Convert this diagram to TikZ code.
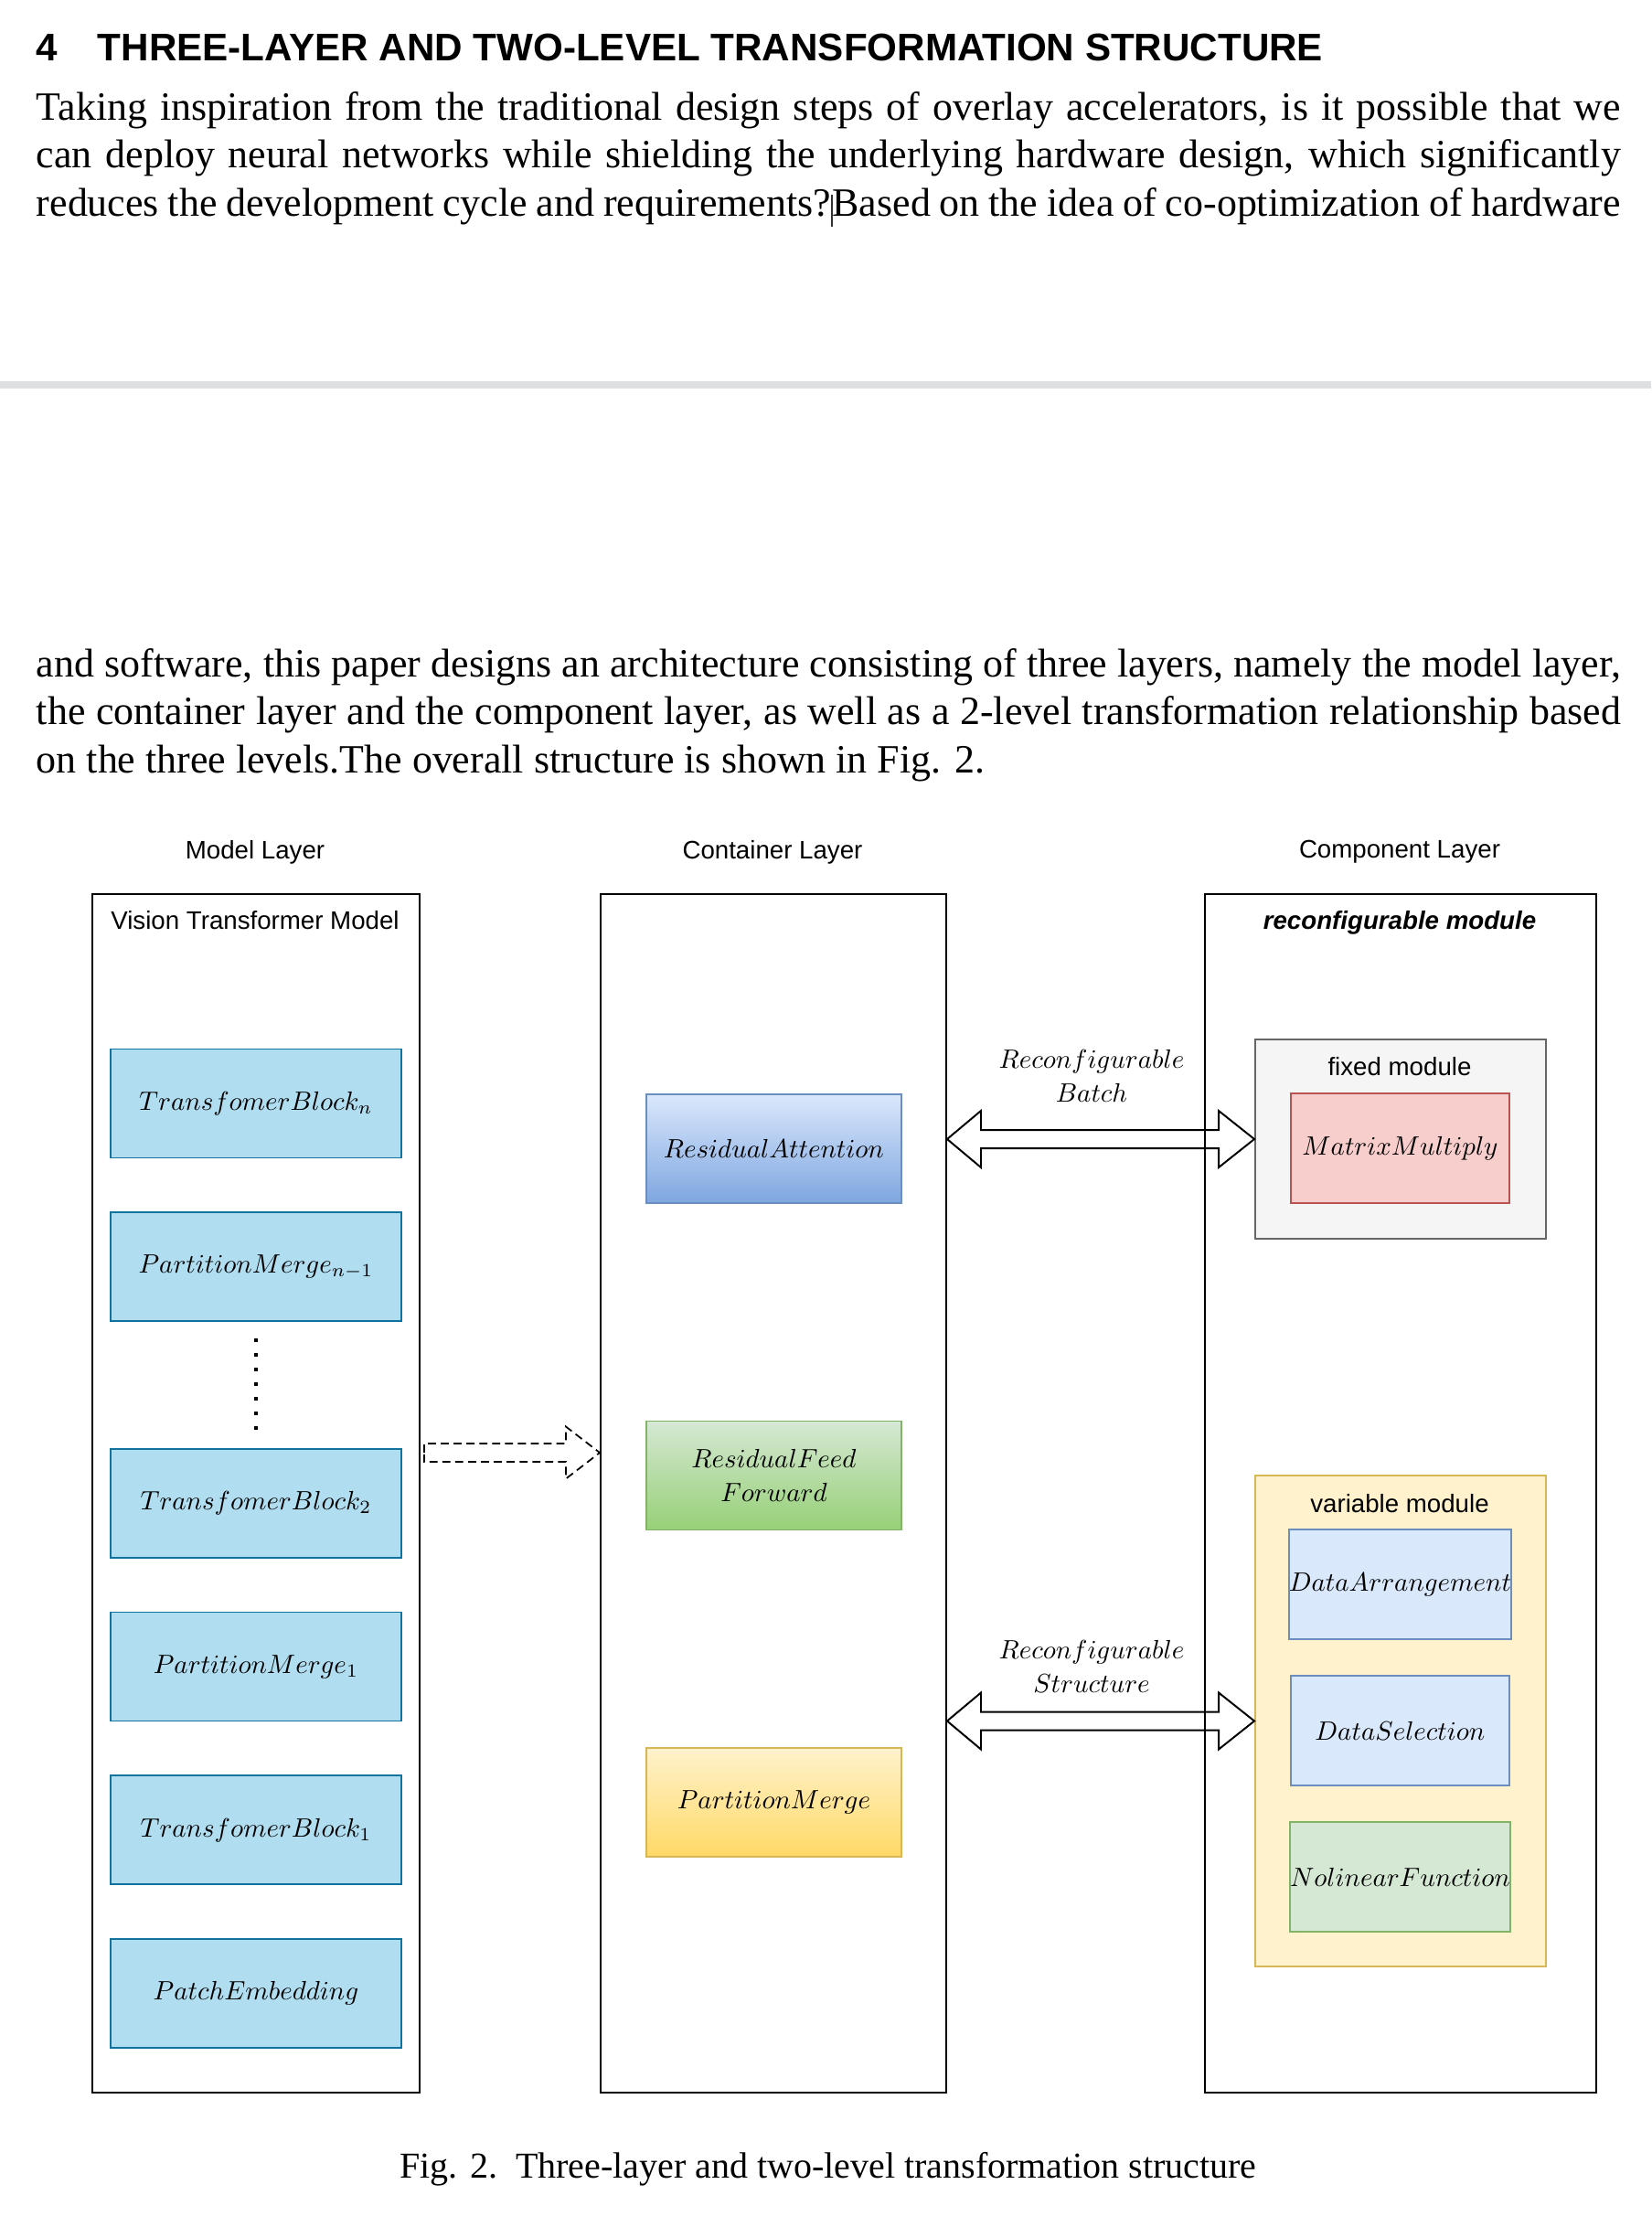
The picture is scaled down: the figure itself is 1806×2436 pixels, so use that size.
\documentclass[tikz,border=0pt]{standalone}
\usepackage{fontspec}
\setmainfont{Liberation Serif}
\setsansfont{Liberation Sans}
\usepackage{xcolor}
\usepackage{graphicx}
\usetikzlibrary{positioning,calc,fit,arrows.meta}

\definecolor{sepGray}{HTML}{DEDFE1}
\definecolor{vitFill}{HTML}{B1DDF0}
\definecolor{vitDraw}{HTML}{10739E}
\definecolor{blueTop}{HTML}{DAE8FC}
\definecolor{blueBottom}{HTML}{7EA6E0}
\definecolor{blueDraw}{HTML}{6C8EBF}
\definecolor{greenTop}{HTML}{D5E8D4}
\definecolor{greenBottom}{HTML}{97D077}
\definecolor{greenDraw}{HTML}{82B366}
\definecolor{yellowTop}{HTML}{FFF2CC}
\definecolor{yellowBottom}{HTML}{FFD966}
\definecolor{yellowDraw}{HTML}{D6B656}
\definecolor{fixedFill}{HTML}{F5F5F5}
\definecolor{fixedDraw}{HTML}{666666}
\definecolor{redFill}{HTML}{F8CECC}
\definecolor{redDraw}{HTML}{B85450}

\newcommand{\mathLabel}{\fontsize{6.6}{8.4}\selectfont}
\newcommand{\mathText}[1]{\scalebox{0.66}{\fontsize{10}{12}\selectfont$#1$}}
\newlength{\bodyWidth}
\setlength{\bodyWidth}{138.64mm}

\begin{document}
\begin{tikzpicture}[
  x=0.08mm, y=-0.08mm,
  bodyLine/.style={anchor=base west, inner sep=0pt,
                   font=\fontsize{10}{12}\selectfont},
  layerLabel/.style={inner sep=0pt, font=\sffamily\fontsize{6.3}{7.6}\selectfont},
  layerBox/.style={draw, line width=0.45pt, inner sep=0pt},
  mathBlock/.style={inner sep=0pt, outer sep=0pt, line width=0.4pt,
                    font=\mathLabel, align=center},
  vitBlock/.style={mathBlock, draw=vitDraw, fill=vitFill,
                   minimum width=25.44mm, minimum height=9.52mm},
  attnBlock/.style={mathBlock, draw=blueDraw, top color=blueTop,
                    bottom color=blueBottom, minimum width=22.32mm,
                    minimum height=9.52mm},
  ffnBlock/.style={mathBlock, draw=greenDraw, top color=greenTop,
                   bottom color=greenBottom, minimum width=22.32mm,
                   minimum height=9.52mm},
  mergeBlock/.style={mathBlock, draw=yellowDraw, top color=yellowTop,
                     bottom color=yellowBottom, minimum width=22.32mm,
                     minimum height=9.52mm},
  unitBlock/.style={mathBlock, minimum width=19.12mm, minimum height=9.6mm},
  blockArrow/.style={draw, line width=0.45pt, line join=miter},
  dashedArrow/.style={draw, line width=0.4pt, dash pattern=on 2pt off 1.2pt},
  dotLine/.style={line width=0.8pt, dash pattern=on 0.8pt off 2.84pt}
]
  \useasboundingbox (0,0) rectangle (1806,2436);
  \fill[white] (0,0) rectangle (1806,2436);

  % === Section text ===
  \node[anchor=base west, inner sep=0pt,
        font=\sffamily\bfseries\fontsize{9.6}{12}\selectfont]
    (secNum) at (39,67) {4};
  \node[anchor=base west, inner sep=0pt,
        font=\sffamily\bfseries\fontsize{9.6}{12}\selectfont]
    (secTitle) at (106,67) {THREE-LAYER AND TWO-LEVEL TRANSFORMATION STRUCTURE};

  \node[bodyLine] (lineOne) at (39,131) {\makebox[\bodyWidth][s]{Taking
    inspiration from the traditional design steps of overlay accelerators,
    is it possible that we}};
  \node[bodyLine] (lineTwo) at (39,183.5) {\makebox[\bodyWidth][s]{can
    deploy neural networks while shielding the underlying hardware design,
    which significantly}};
  \node[bodyLine] (lineThree) at (39,236) {\makebox[\bodyWidth][s]{reduces
    the development cycle and
    requirements?{\color{black!80}\rule[-2.7pt]{0.35pt}{7.9pt}}Based on the
    idea of co-optimization of hardware}};

  \fill[sepGray] (0,417) rectangle (1806,425);

  \node[bodyLine] (lineFour) at (39,740) {\makebox[\bodyWidth][s]{and
    software, this paper designs an architecture consisting of three layers,
    namely the model layer,}};
  \node[bodyLine] (lineFive) at (39,792.5) {\makebox[\bodyWidth][s]{the
    container layer and the component layer, as well as a 2-level
    transformation relationship based}};
  \node[bodyLine] (lineSix) at (39,845) {on the three levels.The overall
    structure is shown in Fig. 2.};

  % === Layer titles ===
  \node[layerLabel] (modelLayer) at (279,932) {Model Layer};
  \node[layerLabel] (containerLayer) at (845,932) {Container Layer};
  \node[layerLabel] (componentLayer) at (1531,932) {Component Layer};

  % === Model layer ===
  \node[layerBox, fit={(101,978) (459,2289)}] (modelBox) {};
  \node[layerLabel] (vitTitle) at (279,1007) {Vision Transformer Model};
  \node[vitBlock] (blockN) at (280,1207) {\mathText{TransfomerBlock_{n}}};
  \node[vitBlock, below=4.78mm of blockN] (mergeNm)
    {\mathText{PartitionMerge_{n-1}}};
  \node[vitBlock, below=11.16mm of mergeNm] (blockTwo)
    {\mathText{TransfomerBlock_{2}}};
  \node[vitBlock, below=4.78mm of blockTwo] (mergeOne)
    {\mathText{PartitionMerge_{1}}};
  \node[vitBlock, below=4.78mm of mergeOne] (blockOne)
    {\mathText{TransfomerBlock_{1}}};
  \node[vitBlock, below=4.78mm of blockOne] (patchEmbed)
    {\mathText{PatchEmbedding}};
  \draw[dotLine] ($(mergeNm.south)+(0,19)$) -- ($(blockTwo.north)+(0,-20)$);

  % === Container layer ===
  \node[layerBox, fit={(657,978) (1035,2289)}] (container) {};
  \node[attnBlock] (resAttn) at (846.5,1256.5) {\mathText{ResidualAttention}};
  \node[ffnBlock] (resFfn) at (846.5,1614)
    {\mathText{ResidualFeed}\\\mathText{Forward}};
  \node[mergeBlock] (partMerge) at (846.5,1971.5) {\mathText{PartitionMerge}};

  % === Component layer ===
  \node[layerBox, fit={(1318,978) (1746,2289)}] (component) {};
  \node[layerLabel, font=\sffamily\bfseries\itshape\fontsize{6.3}{7.6}\selectfont]
    (reconfTitle) at (1531,1009) {reconfigurable module};
  \node[draw=fixedDraw, fill=fixedFill, line width=0.45pt, inner sep=0pt,
        fit={(1373,1137) (1691,1355)}] (fixed) {};
  \node[layerLabel] (fixedTitle) at (1531,1167) {fixed module};
  \node[unitBlock, draw=redDraw, fill=redFill] (matMul) at (1531.5,1256)
    {\mathText{MatrixMultiply}};
  \node[draw=yellowDraw, fill=yellowTop, line width=0.45pt, inner sep=0pt,
        fit={(1373,1614) (1691,2151)}] (variable) {};
  \node[layerLabel] (variableTitle) at (1531,1645) {variable module};
  \node[unitBlock, draw=blueDraw, fill=blueTop] (dataArr) at (1531.5,1733)
    {\mathText{DataArrangement}};
  \node[unitBlock, draw=blueDraw, fill=blueTop, below=3.2mm of dataArr]
    (dataSel) {\mathText{DataSelection}};
  \node[unitBlock, draw=greenDraw, fill=greenTop, below=3.2mm of dataSel]
    (nonLinear) {\mathText{NolinearFunction}};

  % === Transformations ===
  \coordinate (feedTip) at (container.west |- 0,1589);
  \coordinate (feedTail) at ($(modelBox.east |- feedTip)+(4,0)$);
  \draw[dashedArrow] (feedTail) -- ++(0,-10) -- ($(feedTip)+(-37,-10)$)
    -- ++(0,-18.5) -- (feedTip) -- ++(-37,28.5) -- ++(0,-18.5)
    -- ($(feedTail)+(0,10)$) -- cycle;

  \coordinate (batchEnd) at (container.east |- fixed.west);
  \draw[blockArrow] (batchEnd) -- ++(37,-31) -- ++(0,21)
    -- ($(fixed.west)+(-39,-10)$) -- ++(0,-21) -- (fixed.west)
    -- ++(-39,31) -- ++(0,-21) -- ($(batchEnd)+(37,10)$) -- ++(0,21) -- cycle;
  \node[mathBlock] (batchLabel) at (1194,1177)
    {\mathText{Reconfigurable}\\\mathText{Batch}};

  \coordinate (structEnd) at (container.east |- variable.west);
  \draw[blockArrow] (structEnd) -- ++(37,-31) -- ++(0,21)
    -- ($(variable.west)+(-39,-10)$) -- ++(0,-21) -- (variable.west)
    -- ++(-39,31) -- ++(0,-21) -- ($(structEnd)+(37,10)$) -- ++(0,21) -- cycle;
  \node[mathBlock] (structLabel) at (1194,1823)
    {\mathText{Reconfigurable}\\\mathText{Structure}};

  % === Caption ===
  \node[anchor=base, inner sep=0pt, font=\fontsize{9.1}{11}\selectfont]
    (caption) at (906,2382)
    {Fig. 2.\enskip Three-layer and two-level transformation structure};
\end{tikzpicture}
\end{document}
